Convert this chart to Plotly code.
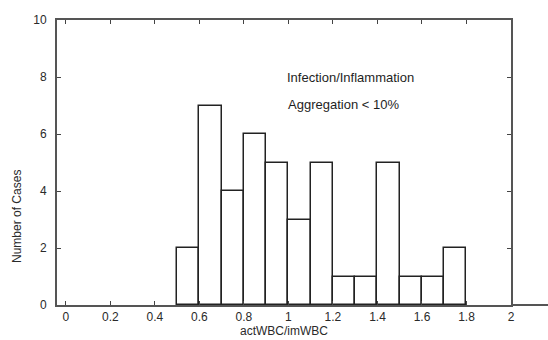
import plotly.graph_objects as go

bin_starts = [0.5, 0.6, 0.7, 0.8, 0.9, 1.0, 1.1, 1.2, 1.3, 1.4, 1.5, 1.6, 1.7]
counts = [2, 7, 4, 6, 5, 3, 5, 1, 1, 5, 1, 1, 2]
bin_width = 0.1
x_ticks = [0, 0.2, 0.4, 0.6, 0.8, 1, 1.2, 1.4, 1.6, 1.8, 2]
x_tick_labels = ["0", "0.2", "0.4", "0.6", "0.8", "1", "1.2", "1.4", "1.6", "1.8", "2"]
y_ticks = [0, 2, 4, 6, 8, 10]

TXT = "#2a2a2a"
FAM = "Liberation Sans, Arial, sans-serif"

fig = go.Figure()
fig.add_trace(go.Bar(
    x=[s + bin_width / 2 for s in bin_starts],
    y=counts,
    width=bin_width,
    marker=dict(color="white", line=dict(color="#222222", width=1.5)),
    showlegend=False,
))

fig.update_layout(
    width=548, height=340,
    margin=dict(l=57, r=37, t=20, b=35, autoexpand=False),
    paper_bgcolor="white", plot_bgcolor="white",
    font=dict(size=12, family=FAM, color=TXT),
    bargap=0,
    xaxis=dict(
        range=[-0.04, 2.0], tickvals=x_ticks, ticktext=x_tick_labels,
        ticks="inside", ticklen=4, tickcolor="#444444",
        showline=True, linecolor="#555555", linewidth=2, mirror="ticks",
        showgrid=False, zeroline=False, automargin=False,
        tickfont=dict(size=12, family=FAM, color=TXT),
        title=dict(text="actWBC/imWBC", font=dict(size=12, family=FAM, color=TXT), standoff=2),
    ),
    yaxis=dict(
        range=[0, 10], tickvals=y_ticks,
        ticks="inside", ticklen=4, tickcolor="#444444",
        showline=True, linecolor="#555555", linewidth=2, mirror="ticks",
        showgrid=False, zeroline=False, automargin=False,
        ticklabelstandoff=6,
        tickfont=dict(size=12, family=FAM, color=TXT),
    ),
    shapes=[dict(type="line", xref="paper", yref="paper", x0=1, x1=1.1, y0=0, y1=0,
                 line=dict(color="#555555", width=2))],
    annotations=[
        dict(text="Number of Cases", textangle=-90, x=-0.088, y=0.309,
             xref="paper", yref="paper", xanchor="center", yanchor="middle",
             showarrow=False, font=dict(size=12, family=FAM, color=TXT)),
        dict(text="Infection/Inflammation", x=0.985, y=8, xref="x", yref="y",
             xanchor="left", showarrow=False, font=dict(size=13, family=FAM, color="#1e1e1e")),
        dict(text="Aggregation < 10%", x=0.99, y=7.05, xref="x", yref="y",
             xanchor="left", showarrow=False, font=dict(size=13, family=FAM, color="#1e1e1e")),
    ],
)

fig.write_html("out.html", config={"displayModeBar": False},
               post_script="document.body.style.margin='0';")
